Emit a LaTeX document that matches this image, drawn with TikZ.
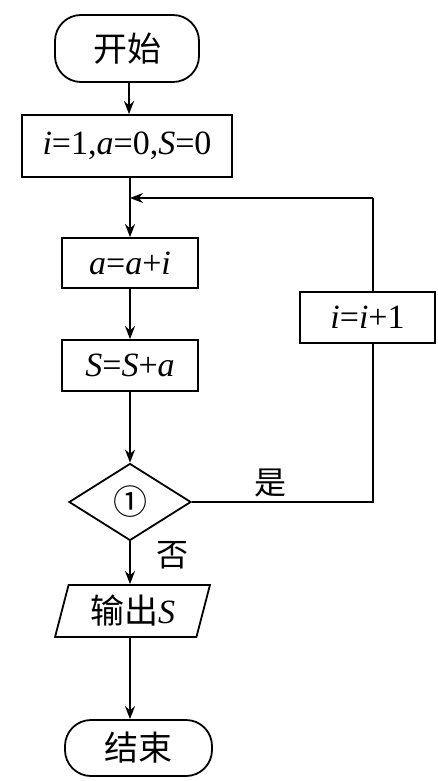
\documentclass[tikz,border=0pt]{standalone}
\usepackage{fontspec}
\setmainfont{Liberation Serif}
\newfontfamily\cjk{Noto Sans CJK SC}
\usetikzlibrary{shapes.geometric,arrows.meta}
\begin{document}
\begin{tikzpicture}[x=1pt,y=-1pt,
  every node/.style={inner sep=0pt,font=\fontsize{34}{36}\selectfont},
  box/.style={draw,line width=1.8pt,rectangle,minimum width=#1},
  term/.style={draw,line width=1.8pt,rectangle,rounded corners=26pt,minimum width=#1},
  cond/.style={draw,line width=1.8pt,diamond,aspect=1.58,minimum width=122pt,minimum height=77pt},
  io/.style={draw,line width=1.8pt,trapezium,trapezium left angle=74,trapezium right angle=106,trapezium stretches=true,minimum width=155pt,minimum height=52pt},
  flow/.style={line width=1.8pt,-{Stealth[length=13pt,width=10pt]}},
  wire/.style={line width=1.8pt},
  lbl/.style={font=\cjk\fontsize{32}{34}\selectfont}
]
\useasboundingbox (0,0) rectangle (437,781);
\node[term=144pt,minimum height=67pt] (start) at (127,48.5) {\cjk 开始};
\node[box=210pt,minimum height=62pt] (init) at (127,146) {\textit{i}=1,\textit{a}=0,\textit{S}=0};
\node[box=136pt,minimum height=50pt] (suma) at (130,263) {\textit{a}=\textit{a}+\textit{i}};
\node[box=136pt,minimum height=51pt] (sums) at (130,365.5) {\textit{S}=\textit{S}+\textit{a}};
\node[box=135pt,minimum height=51pt] (inc) at (367.5,317.5) {\textit{i}=\textit{i}+1};
\node[cond] (dec) at (130,502) {\cjk ①};
\node[io] (out) at (132.5,611) {\cjk 输出\rmfamily\textit{S}};
\node[term=147pt,minimum height=56pt] (stop) at (138.5,748) {\cjk 结束};
\node[lbl] (yes) at (270,483) {是};
\node[lbl] (no) at (172,555) {否};
\coordinate (J) at (130,198);
\coordinate (Lb) at (373,502);
\coordinate (Lt) at (373,198);

\draw[flow] (start.south -| 129,0) -- (init.north -| 129,0);
\draw[wire] (init.south -| J) -- (J);
\draw[flow] (J) -- (suma.north -| J);
\draw[flow] (suma) -- (sums);
\draw[flow] (sums.south) -- (dec.north);
\draw[flow] (dec.south) -- (out.north -| dec.south);
\draw[flow] (out.south -| 130,0) -- (stop.north -| 130,0);
\draw[wire] (dec.east) -- (Lb) -- (inc.south -| Lb);
\draw[wire] (inc.north -| Lt) -- (Lt);
\draw[flow] (Lt) -- (J);
\end{tikzpicture}
\end{document}
